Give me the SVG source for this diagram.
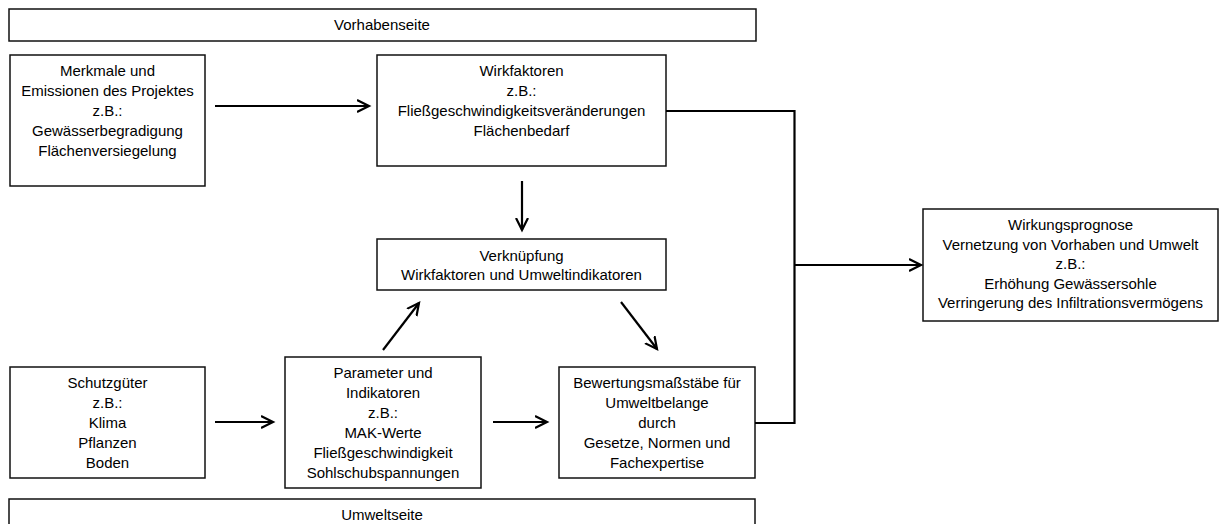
<svg xmlns="http://www.w3.org/2000/svg" width="1219" height="524" viewBox="0 0 1219 524">
  <style>
    .box { fill: #fff; stroke: #111; stroke-width: 1.5; }
    .lbl { font-family: "Liberation Sans", Arial, sans-serif; font-size: 15px; fill: #000; text-anchor: middle; }
    .wire { fill: none; stroke: #000; stroke-width: 2.2; }
  </style>
  <defs>
    <marker id="head" markerUnits="userSpaceOnUse" markerWidth="16" markerHeight="16" refX="12" refY="7" orient="auto">
      <path d="M0,1 L12,7 L0,13" fill="none" stroke="#000" stroke-width="2.2"/>
    </marker>
  </defs>
  <rect width="1219" height="524" fill="#fff"/>

  <!-- project side banner -->
  <g id="vorhabenseite">
    <rect class="box" x="9" y="9" width="747" height="32"/>
    <text class="lbl" x="382" y="30">Vorhabenseite</text>
  </g>

  <!-- environment side banner (runs past the lower edge) -->
  <g id="umweltseite">
    <rect class="box" x="9" y="499" width="746" height="40"/>
    <text class="lbl" x="382" y="520">Umweltseite</text>
  </g>

  <g id="merkmale">
    <rect class="box" x="10" y="55" width="195" height="131"/>
    <text class="lbl" x="107.5" y="76">Merkmale und</text>
    <text class="lbl" x="107.5" y="96">Emissionen des Projektes</text>
    <text class="lbl" x="107.5" y="116">z.B.:</text>
    <text class="lbl" x="107.5" y="136">Gewässerbegradigung</text>
    <text class="lbl" x="107.5" y="156">Flächenversiegelung</text>
  </g>

  <g id="wirkfaktoren">
    <rect class="box" x="377" y="55" width="289" height="111"/>
    <text class="lbl" x="521.5" y="76">Wirkfaktoren</text>
    <text class="lbl" x="521.5" y="96">z.B.:</text>
    <text class="lbl" x="521.5" y="116">Fließgeschwindigkeitsveränderungen</text>
    <text class="lbl" x="521.5" y="136">Flächenbedarf</text>
  </g>

  <g id="verknuepfung">
    <rect class="box" x="377" y="239" width="289" height="51"/>
    <text class="lbl" x="521.5" y="261">Verknüpfung</text>
    <text class="lbl" x="521.5" y="280">Wirkfaktoren und Umweltindikatoren</text>
  </g>

  <g id="wirkungsprognose">
    <rect class="box" x="923" y="209" width="295" height="112"/>
    <text class="lbl" x="1070.5" y="230">Wirkungsprognose</text>
    <text class="lbl" x="1070.5" y="250">Vernetzung von Vorhaben und Umwelt</text>
    <text class="lbl" x="1070.5" y="269">z.B.:</text>
    <text class="lbl" x="1070.5" y="289">Erhöhung Gewässersohle</text>
    <text class="lbl" x="1070.5" y="308">Verringerung des Infiltrationsvermögens</text>
  </g>

  <g id="schutzgueter">
    <rect class="box" x="10" y="367" width="195" height="111"/>
    <text class="lbl" x="107.5" y="388">Schutzgüter</text>
    <text class="lbl" x="107.5" y="408">z.B.:</text>
    <text class="lbl" x="107.5" y="428">Klima</text>
    <text class="lbl" x="107.5" y="448">Pflanzen</text>
    <text class="lbl" x="107.5" y="468">Boden</text>
  </g>

  <g id="parameter">
    <rect class="box" x="285" y="357" width="196" height="131"/>
    <text class="lbl" x="383" y="378">Parameter und</text>
    <text class="lbl" x="383" y="398">Indikatoren</text>
    <text class="lbl" x="383" y="418">z.B.:</text>
    <text class="lbl" x="383" y="438">MAK-Werte</text>
    <text class="lbl" x="383" y="458">Fließgeschwindigkeit</text>
    <text class="lbl" x="383" y="478">Sohlschubspannungen</text>
  </g>

  <g id="bewertung">
    <rect class="box" x="559" y="367" width="196" height="111"/>
    <text class="lbl" x="657" y="388">Bewertungsmaßstäbe für</text>
    <text class="lbl" x="657" y="408">Umweltbelange</text>
    <text class="lbl" x="657" y="428">durch</text>
    <text class="lbl" x="657" y="448">Gesetze, Normen und</text>
    <text class="lbl" x="657" y="468">Fachexpertise</text>
  </g>

  <g id="connectors">
    <line class="wire" x1="215" y1="106" x2="369" y2="106" marker-end="url(#head)"/>
    <line class="wire" x1="522" y1="181" x2="522" y2="230" marker-end="url(#head)"/>
    <line class="wire" x1="383" y1="350" x2="419" y2="303" marker-end="url(#head)"/>
    <line class="wire" x1="621" y1="302" x2="657" y2="349" marker-end="url(#head)"/>
    <line class="wire" x1="215" y1="422" x2="273" y2="422" marker-end="url(#head)"/>
    <line class="wire" x1="493" y1="422" x2="547" y2="422" marker-end="url(#head)"/>
    <!-- both sides merge into the forecast -->
    <polyline class="wire" points="666,111 794.5,111 794.5,423 755,423"/>
    <line class="wire" x1="794.5" y1="265" x2="921" y2="265" marker-end="url(#head)"/>
  </g>
</svg>
